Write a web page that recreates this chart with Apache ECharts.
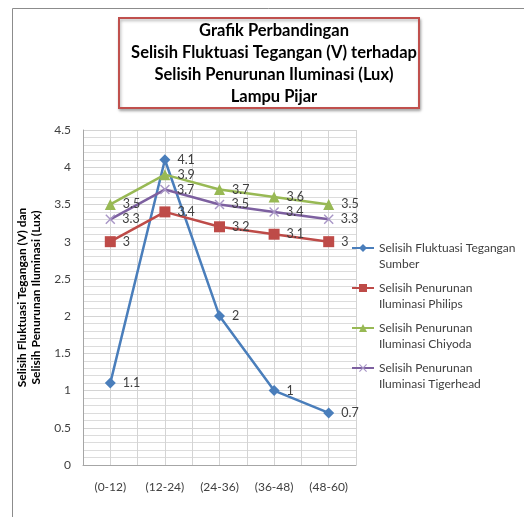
<!DOCTYPE html>
<html>
<head>
<meta charset="utf-8">
<script src="https://cdn.jsdelivr.net/npm/echarts@6/dist/echarts.min.js"></script>
<style>
  html, body { margin: 0; padding: 0; background: #fff; }
  #chart { width: 524px; height: 517px; }
</style>
</head>
<body>
<div id="chart"></div>
<script>
// data
const categories = ['(0-12)', '(12-24)', '(24-36)', '(36-48)', '(48-60)']
const tegangan = [1.1, 4.1, 2, 1, 0.7]
const philips = [3, 3.4, 3.2, 3.1, 3]
const chiyoda = [3.5, 3.9, 3.7, 3.6, 3.5]
const tigerhead = [3.3, 3.7, 3.5, 3.4, 3.3]
const seriesNames = [
  'Selisih Fluktuasi Tegangan Sumber',
  'Selisih Penurunan Iluminasi Philips',
  'Selisih Penurunan Iluminasi Chiyoda',
  'Selisih Penurunan Iluminasi Tigerhead'
]
// legend lines (two rows each)
const legendLines = {
  'Selisih Fluktuasi Tegangan Sumber': ['Selisih Fluktuasi Tegangan', 'Sumber'],
  'Selisih Penurunan Iluminasi Philips': ['Selisih Penurunan', 'Iluminasi Philips'],
  'Selisih Penurunan Iluminasi Chiyoda': ['Selisih Penurunan', 'Iluminasi Chiyoda'],
  'Selisih Penurunan Iluminasi Tigerhead': ['Selisih Penurunan', 'Iluminasi Tigerhead']
}

const FONT = 'Lato, "Open Sans", sans-serif'
const crossPath = 'path://M0,1L1,0L5,4L9,0L10,1L6,5L10,9L9,10L5,6L1,10L0,9L4,5Z'

function makeLine(name, data, color, symbol, size, symColor) {
  return {
    name: name,
    type: 'line',
    data: data,
    xAxisIndex: 0,
    symbol: symbol,
    symbolSize: size,
    lineStyle: { color: color, width: 2.5 },
    itemStyle: { color: symColor || color },
    label: {
      show: true,
      position: 'right',
      distance: 7,
      color: '#404040',
      fontSize: 12.5,
      fontFamily: FONT
    },
    emphasis: { disabled: true },
    animation: false
  }
}

const chart = echarts.init(document.getElementById('chart'))
chart.setOption({
  animation: false,
  title: {
    text: 'Grafik Perbandingan\nSelisih Fluktuasi Tegangan (V) terhadap\nSelisih Penurunan Iluminasi (Lux)\nLampu Pijar',
    left: 269,
    top: 15,
    textAlign: 'center',
    textStyle: {
      fontFamily: FONT,
      fontSize: 16.5,
      fontWeight: 'bold',
      lineHeight: 22,
      color: '#000'
    }
  },
  graphic: [
    {
      type: 'rect',
      shape: { x: 12.5, y: 8.5, width: 700, height: 700 },
      style: { fill: 'none', stroke: '#8c8c8c', lineWidth: 1 },
      z: -10
    },
    {
      type: 'rect',
      shape: { x: 119, y: 18, width: 300, height: 90 },
      style: {
        fill: '#fff',
        stroke: '#c0504d',
        lineWidth: 2,
        shadowBlur: 3,
        shadowOffsetX: 1,
        shadowOffsetY: 2,
        shadowColor: 'rgba(0,0,0,0.3)'
      },
      z: -5
    }
  ],
  legend: {
    orient: 'vertical',
    left: 346,
    top: 219,
    itemWidth: 22,
    itemHeight: 10,
    itemGap: -8,
    data: seriesNames,
    formatter: function (name) {
      // empty first row keeps the icon level with the first text row
      return '\u00a0\n' + legendLines[name].join('\n')
    },
    textStyle: {
      fontFamily: FONT,
      fontSize: 12,
      lineHeight: 16,
      color: '#404040'
    }
  },
  grid: { left: 83, right: 168, top: 130, bottom: 52 },
  xAxis: [
    {
      type: 'category',
      data: categories,
      boundaryGap: true,
      axisLine: { lineStyle: { color: '#a6a6a6' } },
      axisTick: { show: false },
      splitLine: { show: false },
      axisLabel: { color: '#404040', fontSize: 12, fontFamily: FONT, margin: 16 }
    },
    {
      type: 'value',
      min: 0,
      max: 10,
      interval: 1,
      position: 'bottom',
      axisLine: { show: false },
      axisTick: { show: false },
      axisLabel: { show: false },
      splitLine: { show: true, lineStyle: { color: '#d4d4d4' } }
    }
  ],
  yAxis: {
    type: 'value',
    min: 0,
    max: 4.5,
    interval: 0.5,
    name: 'Selisih Fluktuasi Tegangan (V) dan\nSelisih Penurunan Iluminasi (Lux)',
    nameLocation: 'middle',
    nameGap: 37,
    nameTextStyle: {
      fontFamily: FONT,
      fontSize: 12,
      fontWeight: 'bold',
      lineHeight: 14,
      color: '#000'
    },
    axisLine: { show: true, lineStyle: { color: '#a6a6a6' } },
    axisTick: { show: false },
    axisLabel: { color: '#404040', fontSize: 12, fontFamily: FONT, margin: 12 },
    splitLine: { lineStyle: { color: '#d4d4d4' } },
    minorTick: { show: false, splitNumber: 5 },
    minorSplitLine: { show: true, lineStyle: { color: '#dcdcdc' } }
  },
  series: [
    makeLine(seriesNames[0], tegangan, '#4a7ebb', 'diamond', 11),
    makeLine(seriesNames[1], philips, '#be4b48', 'rect', 11),
    makeLine(seriesNames[2], chiyoda, '#98b954', 'triangle', 11),
    makeLine(seriesNames[3], tigerhead, '#7d60a0', crossPath, 10, '#a896c6')
  ]
})
</script>
</body>
</html>
